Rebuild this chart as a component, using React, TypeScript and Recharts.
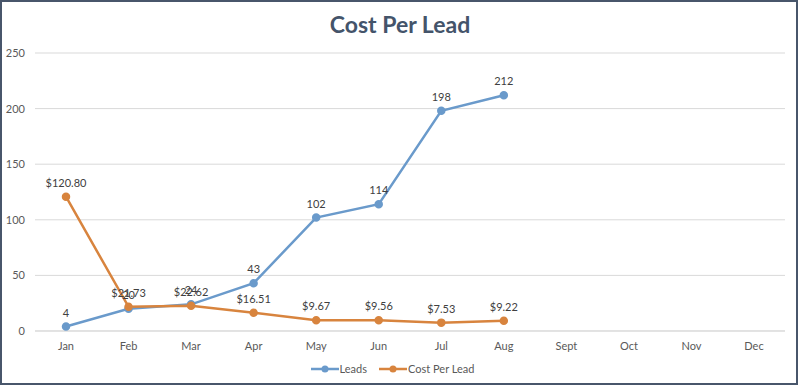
import { LineChart, Line, XAxis, YAxis, CartesianGrid, Legend, LabelList } from 'recharts';

const months = ['Jan', 'Feb', 'Mar', 'Apr', 'May', 'Jun', 'Jul', 'Aug', 'Sept', 'Oct', 'Nov', 'Dec'];
const leads = [4, 20, 24, 43, 102, 114, 198, 212, null, null, null, null];
const costPerLead = [120.8, 21.73, 22.62, 16.51, 9.67, 9.56, 7.53, 9.22, null, null, null, null];
const yTicks = [0, 50, 100, 150, 200, 250];

const BLUE = '#6A9ACB';
const ORANGE = '#D8843E';
const FONT = 'Lato, "Open Sans", sans-serif';

const data = months.map((month, i) => ({
  month,
  leads: leads[i],
  cost: costPerLead[i]
}));

function LegendContent() {
  const items = [
    { name: 'Leads', color: BLUE },
    { name: 'Cost Per Lead', color: ORANGE }
  ];
  return (
    <div style={{ display: 'flex', justifyContent: 'center', gap: 12, fontFamily: FONT, fontSize: 11, color: '#595959' }}>
      {items.map(item => (
        <div key={item.name} style={{ display: 'flex', alignItems: 'center' }}>
          <svg width={28} height={10}>
            <line x1={0} y1={5} x2={28} y2={5} stroke={item.color} strokeWidth={2.5} />
            <circle cx={14} cy={5} r={3.5} fill={item.color} />
          </svg>
          <span style={{ marginLeft: 1 }}>{item.name}</span>
        </div>
      ))}
    </div>
  );
}

export default function App() {
  return (
    <div style={{ position: 'absolute', left: 0, top: 0, width: 800, height: 386, background: '#fff' }}>
      <div
        style={{
          position: 'absolute', left: 0, top: 0, width: 798, height: 385,
          boxSizing: 'border-box', border: '2px solid #48566B'
        }}
      />
      <div
        style={{
          position: 'absolute', left: 0, top: 10, width: 800, textAlign: 'center',
          fontFamily: FONT, fontWeight: 700, fontSize: 23, color: '#44546A'
        }}
      >
        Cost Per Lead
      </div>
      <LineChart width={800} height={386} data={data} margin={{ top: 53, right: 15, bottom: 1, left: 0 }}>
        <CartesianGrid vertical={false} stroke="#D9D9D9" />
        <XAxis
          dataKey="month"
          axisLine={{ stroke: '#D9D9D9' }}
          tickLine={false}
          tickMargin={5}
          height={31}
          padding={{ left: 31, right: 31 }}
          tick={{ fontSize: 11, fill: '#595959', fontFamily: FONT }}
        />
        <YAxis
          domain={[0, 250]}
          ticks={yTicks}
          width={35}
          axisLine={false}
          tickLine={false}
          tickSize={0}
          tickMargin={10}
          tick={{ fontSize: 11, fill: '#595959', fontFamily: FONT }}
        />
        <Legend content={<LegendContent />} verticalAlign="bottom" height={23} />
        <Line
          dataKey="leads"
          name="Leads"
          stroke={BLUE}
          strokeWidth={2.5}
          dot={{ r: 3, fill: BLUE, stroke: BLUE }}
          isAnimationActive={false}
        >
          <LabelList dataKey="leads" position="top" offset={10} style={{ fontSize: 11, fill: '#404040', fontFamily: FONT }} />
        </Line>
        <Line
          dataKey="cost"
          name="Cost Per Lead"
          stroke={ORANGE}
          strokeWidth={2.5}
          dot={{ r: 3, fill: ORANGE, stroke: ORANGE }}
          isAnimationActive={false}
        >
          <LabelList
            dataKey="cost"
            position="top"
            offset={10}
            formatter={(v: any) => (v == null ? '' : '$' + Number(v).toFixed(2))}
            style={{ fontSize: 11, fill: '#404040', fontFamily: FONT }}
          />
        </Line>
      </LineChart>
    </div>
  );
}
